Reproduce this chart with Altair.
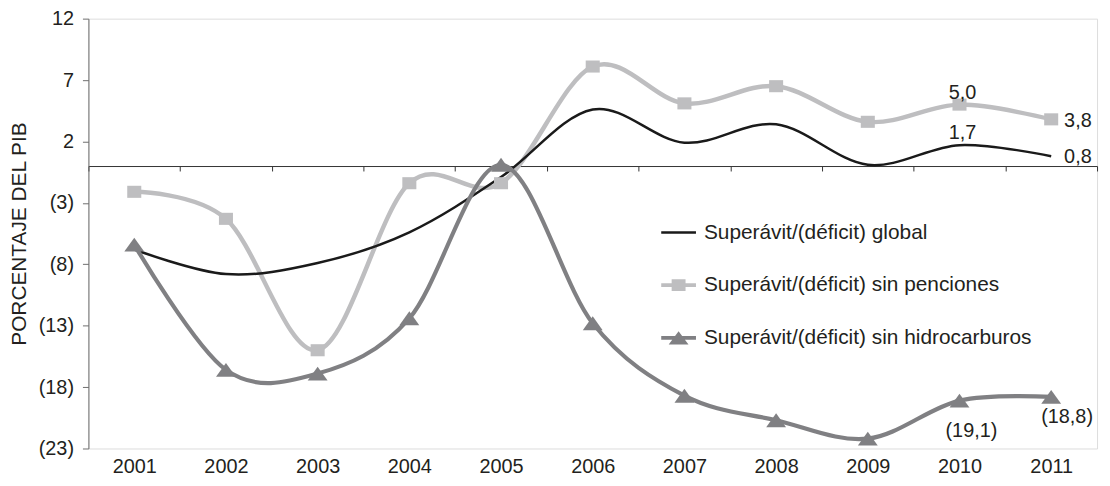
import altair as alt
import pandas as pd

# ---------------- data ----------------
years = [2001, 2002, 2003, 2004, 2005, 2006, 2007, 2008, 2009, 2010, 2011]
global_vals = [-6.8, -8.8, -7.9, -5.4, -0.9, 4.6, 1.9, 3.4, 0.1, 1.7, 0.8]
pensiones_vals = [-2.1, -4.3, -15.0, -1.4, -1.4, 8.1, 5.1, 6.5, 3.6, 5.0, 3.8]
hidro_vals = [-6.4, -16.6, -16.9, -12.4, 0.1, -12.8, -18.7, -20.7, -22.2, -19.1, -18.8]
series_names = [
    "Superávit/(déficit) global",
    "Superávit/(déficit) sin penciones",
    "Superávit/(déficit) sin hidrocarburos",
]
y_ticks = [12, 7, 2, -3, -8, -13, -18, -23]
y_title = "PORCENTAJE DEL PIB"
label_years = [2010, 2011, 2010, 2011, 2010, 2011]
label_series = [0, 0, 1, 1, 2, 2]

# ---------------- styles ----------------
FONT = "Liberation Sans"
TXT = "#231F20"
colors = ["#1A1A1A", "#BEBEC0", "#808083"]
widths = [2.5, 4.5, 4.2]
marker_paths = [None, "M-1,-0.86H1V0.86H-1Z", "M-1,0.7L0,-0.7L1,0.7Z"]
marker_sizes = [0, 200, 400]
EXT = "M-1,-0.45L-1,-0.45Z M-1,0.45L-1,0.45Z "
legend_paths = [
    EXT + "M-1,-0.07H1V0.07H-1Z",
    EXT + "M-1,-0.11H1V0.11H-1Z M-0.4,-0.34H0.4V0.34H-0.4Z",
    EXT + "M-1,-0.11H1V0.11H-1Z M-0.57,0.38L0,-0.38L0.57,0.38Z",
]
# (dx, dy, align) per label
label_style = [(3, -12, "center"), (13, 1, "left"), (3, -12, "center"),
               (13, 2, "left"), (12, 31, "center"), (16, 20, "center")]

W, H = 1016, 433
Y_MIN, Y_MAX = -23, 12

all_vals = [global_vals, pensiones_vals, hidro_vals]
rows = []
for name, vals in zip(series_names, all_vals):
    for yr, v in zip(years, vals):
        rows.append({"year": yr, "series": name, "value": v})
df = pd.DataFrame(rows)


def fmt(v):
    s = f"{abs(v):.1f}".replace(".", ",")
    return f"({s})" if v < 0 else s


x_scale = alt.Scale(domain=[years[0] - 0.5, years[-1] + 0.5], nice=False, zero=False)
y_scale = alt.Scale(domain=[Y_MIN, Y_MAX], nice=False, zero=False)

x_enc = alt.X(
    "year:Q", scale=x_scale,
    axis=alt.Axis(values=years, format="d", ticks=False, domain=False, grid=False,
                  labelFont=FONT, labelFontSize=20, labelColor=TXT, labelPadding=8,
                  title=None, labelFlush=False),
)
y_enc = alt.Y(
    "value:Q", scale=y_scale,
    axis=alt.Axis(values=y_ticks, grid=False, domainColor="#6E6E6E", tickColor="#6E6E6E",
                  tickSize=6, labelFont=FONT, labelFontSize=20, labelColor=TXT, labelPadding=9,
                  labelExpr="datum.value < 0 ? '(' + abs(datum.value) + ')' : datum.value + '\u00a0'",
                  title=y_title, titleFont=FONT, titleFontSize=21, titleFontWeight="normal",
                  titleColor=TXT, titlePadding=9),
)

base = alt.Chart(df)
layers = []
draw_order = [1, 0, 2]
for i in draw_order:
    name = series_names[i]
    layers.append(
        base.transform_filter(alt.datum.series == name)
        .mark_line(interpolate="cardinal", color=colors[i], strokeWidth=widths[i])
        .encode(x=x_enc, y=y_enc)
    )
for i in [1, 2]:
    name = series_names[i]
    layers.append(
        base.transform_filter(alt.datum.series == name)
        .mark_point(shape=marker_paths[i], filled=True, color=colors[i], opacity=1,
                    size=marker_sizes[i], strokeWidth=0)
        .encode(x=x_enc, y=y_enc)
    )

for k, (yr, si) in enumerate(zip(label_years, label_series)):
    v = all_vals[si][years.index(yr)]
    ldf = pd.DataFrame([{"year": yr, "value": v, "txt": fmt(v)}])
    dx, dy, al = label_style[k]
    layers.append(
        alt.Chart(ldf).mark_text(font=FONT, fontSize=20, color=TXT, dx=dx, dy=dy,
                                 align=al, baseline="middle")
        .encode(x=x_enc, y=y_enc, text="txt:N")
    )

leg = alt.Legend(orient="none", legendX=577, legendY=198, title=None,
                 labelFont=FONT, labelFontSize=21, labelColor=TXT, labelLimit=0,
                 symbolSize=1225, symbolStrokeWidth=0, symbolOpacity=1,
                 rowPadding=25, labelOffset=8, padding=0)
legend_layer = (
    alt.Chart(df).transform_filter("false")
    .mark_point(filled=True, opacity=1, strokeWidth=0)
    .encode(
        fill=alt.Fill("series:N", scale=alt.Scale(domain=series_names, range=colors), legend=leg),
        shape=alt.Shape("series:N", scale=alt.Scale(domain=series_names, range=legend_paths), legend=leg),
    )
)
layers.append(legend_layer)

inner = alt.layer(*layers)

zero_offset = -H * (0 - Y_MIN) / (Y_MAX - Y_MIN)
zero_layer = (
    alt.Chart(df).transform_filter("false").mark_point()
    .encode(x=alt.X("year:Q", scale=x_scale,
                    axis=alt.Axis(orient="bottom", offset=zero_offset,
                                  values=[y - 0.5 for y in years] + [years[-1] + 0.5],
                                  labels=False, ticks=True, tickSize=5, tickColor="#333333",
                                  domain=True, domainColor="#333333", grid=False, title=None)))
)

chart = (
    alt.layer(inner, zero_layer)
    .resolve_axis(x="independent")
    .properties(width=W, height=H,
                autosize=alt.AutoSizeParams(type="none"),
                padding={"left": 81, "top": 9, "right": 5, "bottom": 28})
    .configure_view(stroke=None)
    .configure(font=FONT, background="white")
)

chart.save("out.html", embed_options={"renderer": "svg", "actions": False})
